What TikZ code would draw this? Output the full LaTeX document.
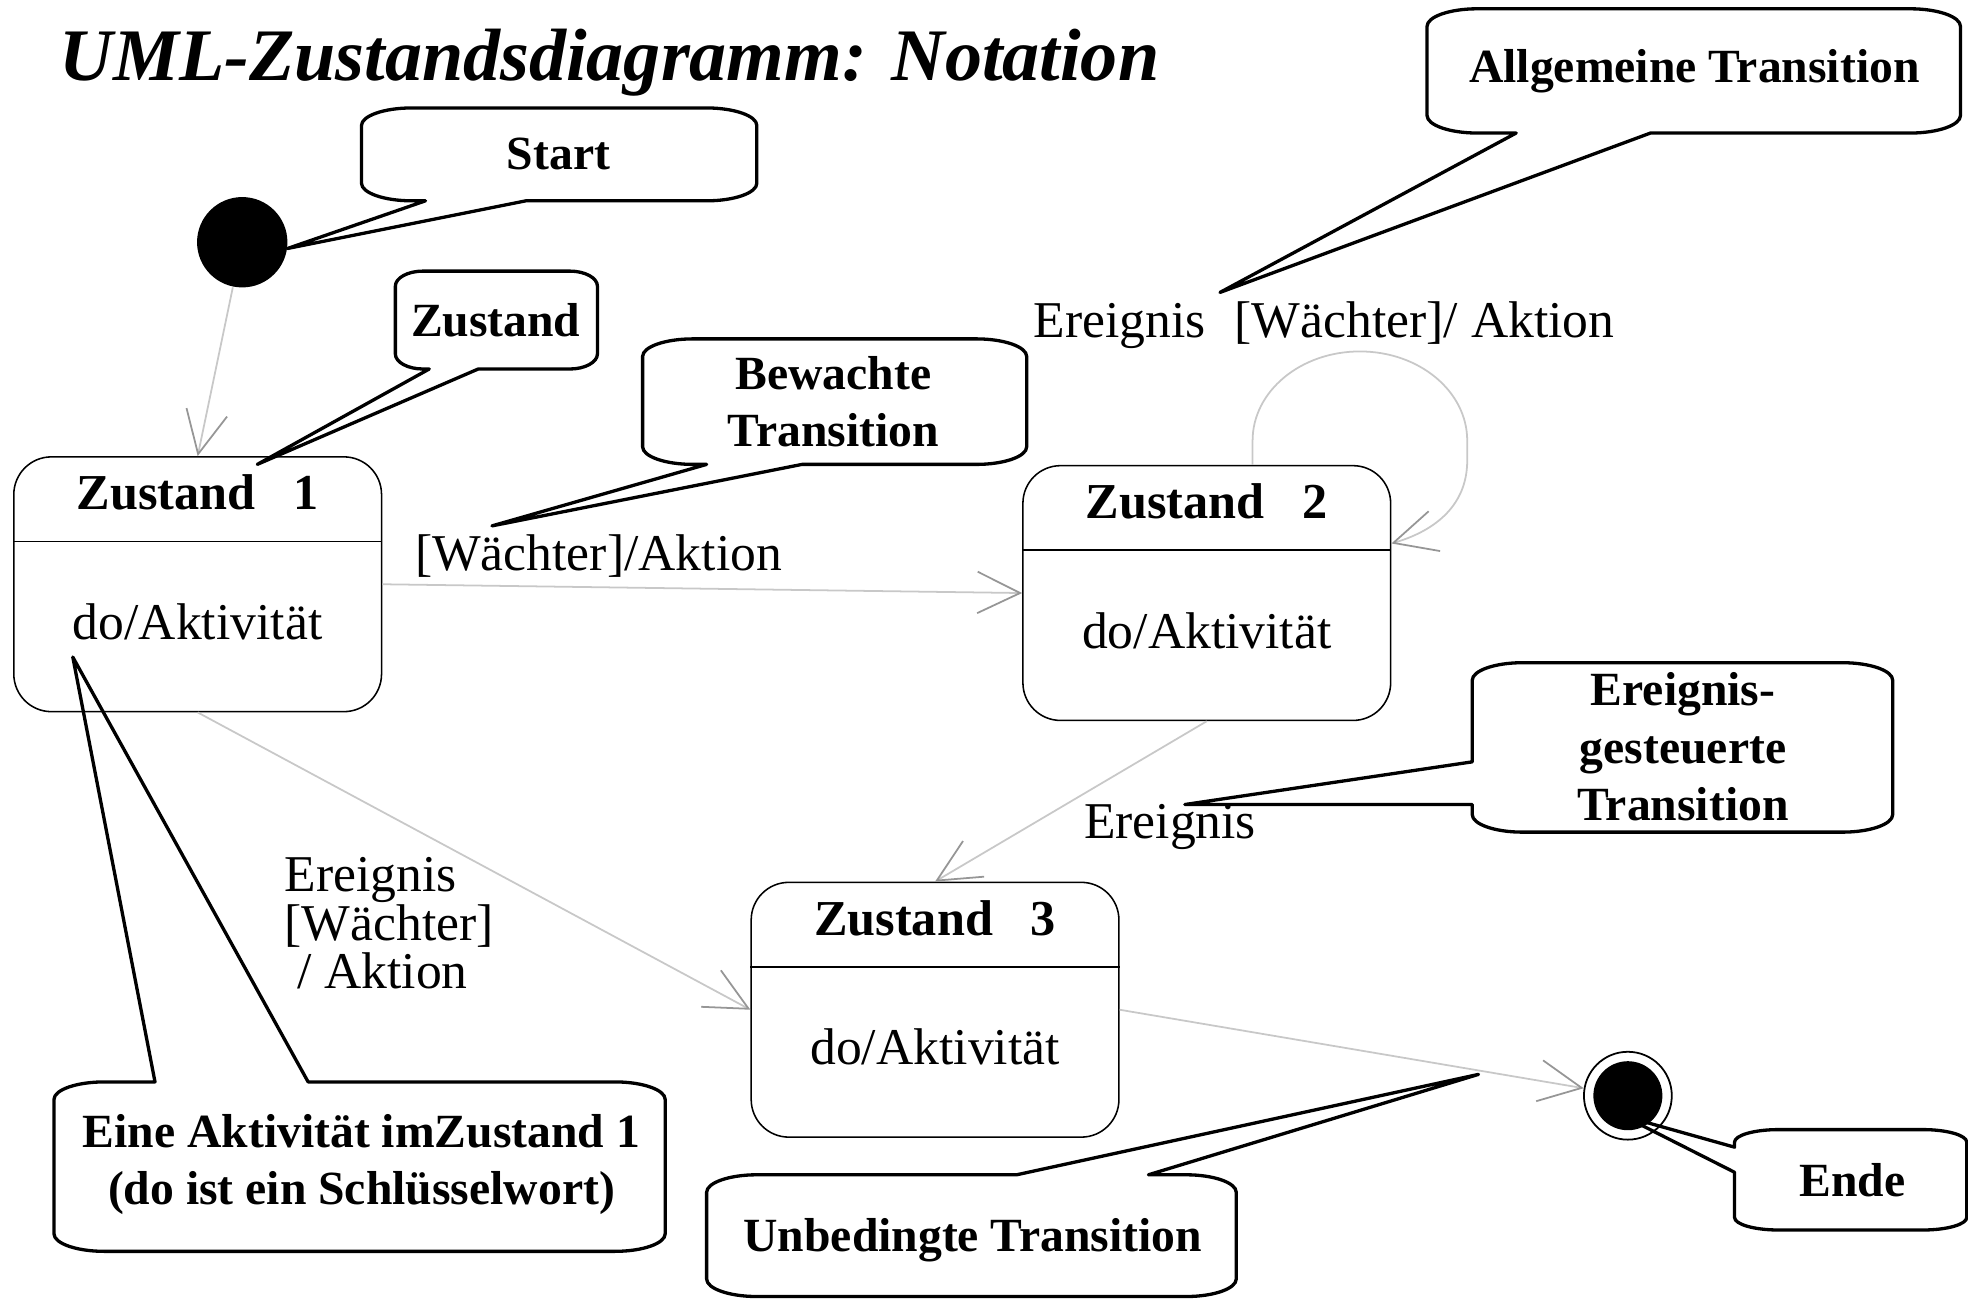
\documentclass[tikz,border=0pt]{standalone}
\usepackage{fontspec}
\setmainfont{Liberation Serif}
\usetikzlibrary{arrows.meta,calc}
\definecolor{transgray}{RGB}{200,200,200}
\definecolor{tipgray}{RGB}{150,150,150}
\newcommand\bubA{40}
\newcommand\bubB{14}
% #1 x1, #2 y1 (top), #3 x2, #4 y2 (bottom), #5 top insert, #6 right insert, #7 bottom insert, #8 left insert
\newcommand\bubble[8]{%
\draw[bubbleline] ({#1+\bubA},#2) #5 -- ({#3-\bubA},#2)
  .. controls ({#3-0.45*\bubA},#2) and (#3,{#2+0.45*\bubB}) .. (#3,{#2+\bubB})
  #6 -- (#3,{#4-\bubB})
  .. controls (#3,{#4-0.45*\bubB}) and ({#3-0.45*\bubA},#4) .. ({#3-\bubA},#4)
  #7 -- ({#1+\bubA},#4)
  .. controls ({#1+0.45*\bubA},#4) and (#1,{#4-0.45*\bubB}) .. (#1,{#4-\bubB})
  #8 -- (#1,{#2+\bubB})
  .. controls (#1,{#2+0.45*\bubB}) and ({#1+0.45*\bubA},#2) .. ({#1+\bubA},#2) -- cycle;}
\begin{document}
\begin{tikzpicture}[x=0.1mm,y=-0.1mm,
  bubbleline/.style={draw=black, line width=0.75pt, line join=round},
  bubtext/.style={font=\bfseries\fontsize{10.8}{13}\selectfont, align=center, inner sep=0pt},
  state/.style={draw, line width=0.35pt, rounded corners=3mm, minimum width=29.3mm, minimum height=20.3mm, inner sep=0pt},
  statetitle/.style={font=\bfseries\fontsize{11.4}{13}\selectfont, inner sep=0pt},
  stateact/.style={font=\fontsize{11.7}{13}\selectfont, inner sep=0pt},
  lbl/.style={font=\fontsize{11.7}{11.1}\selectfont, inner sep=0pt, align=left},
  trans/.style={draw=transgray, line width=0.4pt, -{Straight Barb[length=3.4mm, width=3.3mm, color=tipgray]}},
  divider/.style={draw, line width=0.35pt}]
\useasboundingbox (0,0) rectangle (1568,1035);

% title
\node[anchor=base west, inner sep=0pt, font=\bfseries\itshape\fontsize{16.8}{20}\selectfont] (title) at (47,64) {UML-Zustandsdiagramm: Notation};

% initial and final pseudo states
\node[circle, fill=black, minimum size=7.2mm, inner sep=0pt] (start) at (193,193) {};
\node[circle, draw, line width=0.4pt, minimum size=7mm, inner sep=0pt] (ende) at (1297,873) {};
\fill (ende.center) circle (2.75mm);

% states
\node[state] (z1) at (157.5,465.5) {};
\node[state] (z2) at (961.5,472.5) {};
\node[state] (z3) at (745,804.5) {};
\foreach \s/\n in {z1/1, z2/2, z3/3}{
  \draw[divider] ($(\s.north west)+(0,68)$) -- ($(\s.north east)+(0,68)$);
  \node[statetitle] (\s t) at ($(\s.north)+(0,29)$) {Zustand\ \ \ \n};
  \node[stateact] (\s a) at ($(\s.north)+(0,132)$) {do/Aktivität};
}

% transitions
\draw[trans] (start) -- (z1.north);
\draw[trans] (z1.east) -- (z2.west);
\draw[trans] (z1.south) -- (z3.west);
\draw[trans] (z2.south) -- (z3.north);
\draw[trans] (z3.east) -- (ende);
\coordinate (loopA) at ($(z2.north)+(36.5,0)$);
\coordinate (loopB) at ($(z2.east)+(0,-39.5)$);
\draw[trans] (loopA) -- (998,351) .. controls (998,312) and (1036,280) .. (1083.5,280)
  .. controls (1131,280) and (1169,312) .. (1169,351) -- (1169,367)
  .. controls (1169,405) and (1140,424) .. (loopB);

% transition labels
\node[lbl, anchor=west] (l12) at (330,443) {[Wächter]/Aktion};
\node[lbl, anchor=west] (l22) at (823,259) {Ereignis\hspace{2.3mm}[Wächter]/ Aktion};
\node[lbl, anchor=base west] (l23) at (863,668) {Ereignis};
\node[lbl, anchor=north west] (l13) at (226,682) {Ereignis\\{}[Wächter]\\\hspace{1mm}/ Aktion};

% callouts
\bubble{288}{86}{603}{160}{}{}{-- (419,160) -- (229,198) -- (339,160)}{}
\node[bubtext] (cStart) at (445,123) {Start};

\renewcommand\bubA{22}\renewcommand\bubB{12}
\bubble{315}{216}{476}{294}{}{}{-- (381,294) -- (205,370) -- (342,294)}{}
\node[bubtext] (cZustand) at (395,255) {Zustand};

\renewcommand\bubA{40}\renewcommand\bubB{14}
\bubble{512}{270}{818}{370}{}{}{-- (639,370) -- (392,419) -- (563,370)}{}
\node[bubtext] (cBewacht) at (664,320) {Bewachte\\Transition};

\bubble{1137}{7}{1562}{106}{}{}{-- (1315,106) -- (972,233) -- (1208,106)}{}
\node[bubtext] (cAllg) at (1350,57) {Allgemeine Transition};

\bubble{1173}{528}{1508}{663}{}{}{}{-- (1173,641) -- (944,641) -- (1173,607)}
\node[bubtext] (cEreig) at (1341,595) {Ereignis-\\gesteuerte\\Transition};

\bubble{563}{936}{985}{1033}{-- (810,936) -- (1178,856) -- (915,936)}{}{}{}
\node[bubtext] (cUnbed) at (775,988) {Unbedingte Transition};

\bubble{43}{862}{530}{997}{-- (123.5,862) -- (58,523.5) -- (245.5,862)}{}{}{}
\node[bubtext] (cAkt) at (288,928) {Eine Aktivität imZustand 1\\(do ist ein Schlüsselwort)};

\renewcommand\bubA{35}\renewcommand\bubB{10}
\bubble{1382}{900}{1567}{980}{}{}{}{-- (1382,934) -- (1293,889) -- (1382,914)}
\node[bubtext] (cEnde) at (1476,940) {Ende};
\end{tikzpicture}
\end{document}
